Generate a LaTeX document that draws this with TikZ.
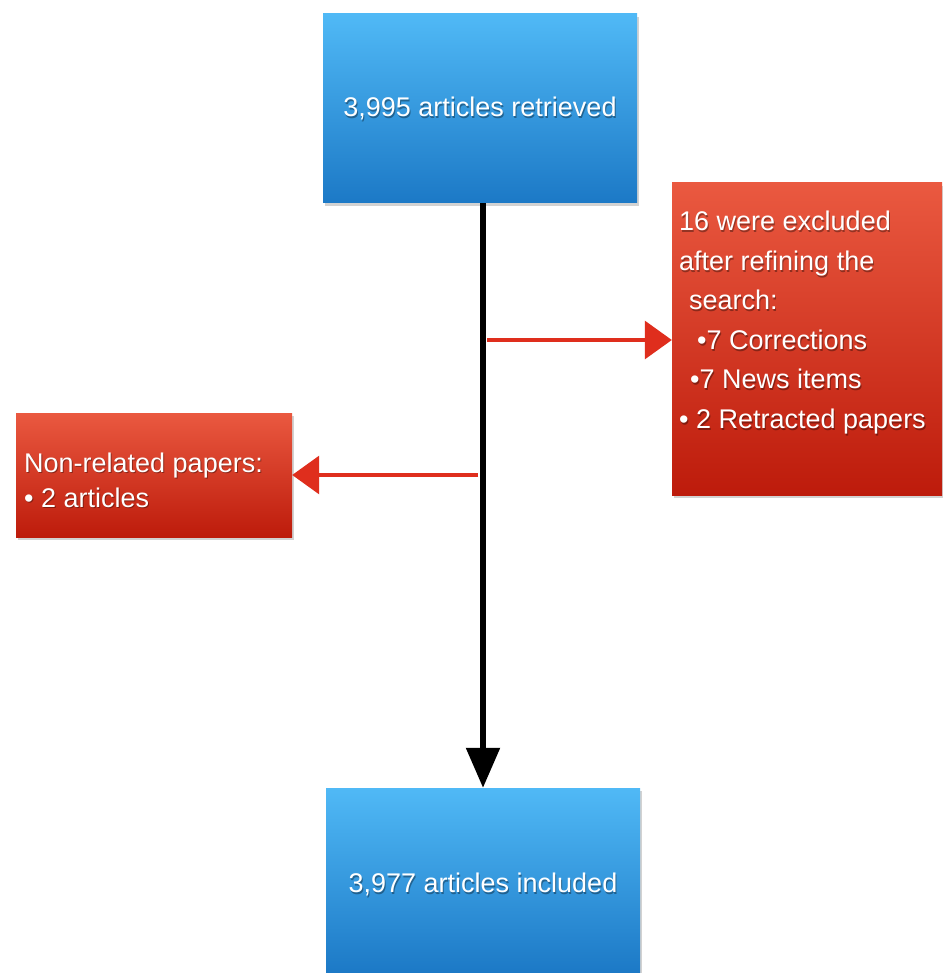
\documentclass[tikz,border=0pt]{standalone}
\usepackage{fontspec}
\setmainfont{Liberation Sans}
\usetikzlibrary{arrows.meta,shadows}
\definecolor{bluetop}{HTML}{50B9F6}
\definecolor{bluebot}{HTML}{1C79C6}
\definecolor{redtop}{HTML}{EA5940}
\definecolor{redbot}{HTML}{BD1B0B}
\definecolor{redarrow}{HTML}{DF2E1D}
\begin{document}
\begin{tikzpicture}[x=1pt,y=-1pt,
  boxshadow/.style={drop shadow={shadow xshift=1.5pt,shadow yshift=-3pt,opacity=0.35}},
  bluebox/.style={rectangle,inner sep=0pt,top color=bluetop,bottom color=bluebot,boxshadow},
  redbox/.style={rectangle,inner sep=0pt,top color=redtop,bottom color=redbot,boxshadow},
  txt/.style={text=white,inner sep=0pt,align=left},
  txtsh/.style={text=black,text opacity=0.35,inner sep=0pt,align=left,xshift=1pt,yshift=-1.8pt},
  big/.style={font=\fontsize{27}{35}\selectfont},
  bigr/.style={font=\fontsize{27}{39.5}\selectfont},
  blk/.style={line width=5.5pt,black,-{Triangle[length=40pt,width=33pt]}},
  redarr/.style={line width=3.2pt,redarrow,-{Triangle[length=27pt,width=38pt]}}]
\useasboundingbox (0,0) rectangle (942,973);
\fill[white] (0,0) rectangle (942,973);

% blue boxes
\node[bluebox,minimum width=314pt,minimum height=189pt] (top) at (480,108.5) {};
\node[txtsh,big] (topsh) at (top.center) {3,995 articles retrieved};
\node[txt,big] (toptext) at (top.center) {3,995 articles retrieved};

\node[bluebox,minimum width=314pt,minimum height=185pt] (bot) at (483,880.5) {};
\node[txtsh,big] (botsh) at ([yshift=-4pt]bot.center) {3,977 articles included};
\node[txt,big] (bottext) at ([yshift=-4pt]bot.center) {3,977 articles included};

% right red box
\node[redbox,minimum width=270pt,minimum height=312pt] (rbox) at (807,339) {};
\node[txtsh,bigr,anchor=north west] (rtextsh) at (679,211) {16 were excluded\\
after refining the\\
\hspace*{10pt}search:\\
\hspace*{18pt}•7 Corrections\\
\hspace*{11pt}•7 News items\\
• 2 Retracted papers};
\node[txt,bigr,anchor=north west] (rtext) at (679,211) {16 were excluded\\
after refining the\\
\hspace*{10pt}search:\\
\hspace*{18pt}•7 Corrections\\
\hspace*{11pt}•7 News items\\
• 2 Retracted papers};

% left red box
\node[redbox,minimum width=276pt,minimum height=124pt] (lbox) at (154,475) {};
\node[txtsh,big,anchor=west] (ltextsh) at (24,480) {Non-related papers:\\
• 2 articles};
\node[txt,big,anchor=west] (ltext) at (24,480) {Non-related papers:\\
• 2 articles};

% connectors
\draw[blk] (top.south -| bot.north) -- (bot.north);
\coordinate (rs) at (487,340);
\coordinate (ls) at (478,475);
\draw[redarr] (rs) -- (rs -| rbox.west);
\draw[redarr] (ls) -- (ls -| lbox.east);
\end{tikzpicture}
\end{document}
